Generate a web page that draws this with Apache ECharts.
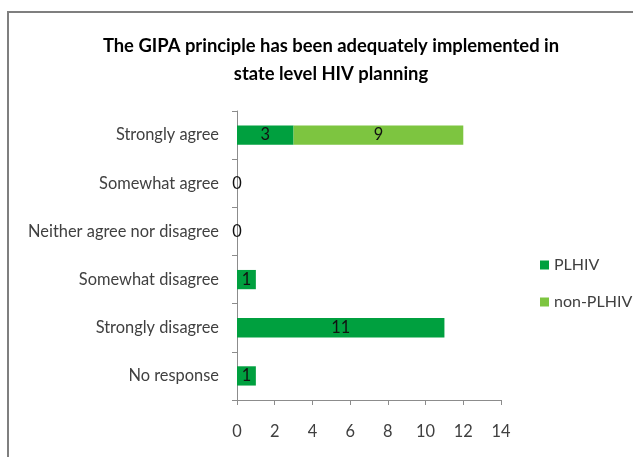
<!DOCTYPE html>
<html>
<head>
<meta charset="utf-8">
<script src="https://cdn.jsdelivr.net/npm/echarts@6/dist/echarts.min.js"></script>
<style>
  html, body { margin: 0; padding: 0; background: #fff; }
  #chart { width: 633px; height: 457px; }
</style>
</head>
<body>
<div id="chart"></div>
<script>
// Survey responses, listed top to bottom as shown
const categories = [
  'Strongly agree',
  'Somewhat agree',
  'Neither agree nor disagree',
  'Somewhat disagree',
  'Strongly disagree',
  'No response'
];
const plhiv = [3, 0, 0, 1, 11, 1];
const nonPlhiv = [9, 0, 0, 0, 0, 0];
const xTicks = [0, 2, 4, 6, 8, 10, 12, 14];

const FONT = "Lato, 'Open Sans', sans-serif";
const FS = 16.4;
const DARK = '#00A03F';
const LIGHT = '#7DC540';

const chart = echarts.init(document.getElementById('chart'));
chart.setOption({
  animation: false,
  backgroundColor: '#ffffff',
  textStyle: { fontFamily: FONT },
  graphic: [{
    type: 'rect',
    shape: { x: 8, y: 12, width: 640, height: 470 },
    style: { fill: 'none', stroke: '#7f7f7f', lineWidth: 2 },
    silent: true,
    z: -1
  }],
  title: {
    text: 'The GIPA principle has been adequately implemented in\nstate level HIV planning',
    left: 326,
    textAlign: 'center',
    top: 27,
    textStyle: {
      fontFamily: FONT,
      fontSize: 18.4,
      fontWeight: 'bold',
      color: '#000',
      lineHeight: 28
    }
  },
  legend: {
    orient: 'vertical',
    left: 535,
    top: 252,
    itemWidth: 9,
    itemHeight: 9,
    itemGap: 21,
    icon: 'rect',
    textStyle: { fontFamily: FONT, fontSize: 16, color: '#404040' },
    data: ['PLHIV', 'non-PLHIV']
  },
  grid: {
    left: 237,
    top: 111,
    width: 264,
    height: 289,
    containLabel: false
  },
  xAxis: {
    type: 'value',
    min: 0,
    max: 14,
    interval: 2,
    axisLine: { show: true, lineStyle: { color: '#8c8c8c', width: 1 } },
    axisTick: { show: true, length: 5, lineStyle: { color: '#8c8c8c' } },
    splitLine: { show: false },
    axisLabel: {
      margin: 24,
      fontFamily: FONT,
      fontSize: FS,
      color: '#404040',
      formatter: v => (xTicks.includes(v) ? String(v) : '')
    }
  },
  yAxis: {
    type: 'category',
    inverse: true,
    data: categories,
    axisLine: { show: true, lineStyle: { color: '#8c8c8c', width: 1 } },
    axisTick: { show: true, length: 5, alignWithLabel: false, lineStyle: { color: '#8c8c8c' } },
    axisLabel: {
      margin: 18,
      fontFamily: FONT,
      fontSize: FS,
      color: '#404040'
    }
  },
  series: [
    {
      name: 'PLHIV',
      type: 'bar',
      stack: 'total',
      barWidth: '40%',
      data: plhiv,
      itemStyle: { color: DARK },
      label: {
        show: true,
        position: 'inside',
        fontFamily: FONT,
        fontSize: FS,
        color: '#111'
      }
    },
    {
      name: 'non-PLHIV',
      type: 'bar',
      stack: 'total',
      barWidth: '40%',
      data: nonPlhiv,
      itemStyle: { color: LIGHT },
      label: {
        show: true,
        position: 'inside',
        fontFamily: FONT,
        fontSize: FS,
        color: '#111',
        formatter: p => (p.value === 0 ? '' : String(p.value))
      }
    }
  ]
});
</script>
</body>
</html>
